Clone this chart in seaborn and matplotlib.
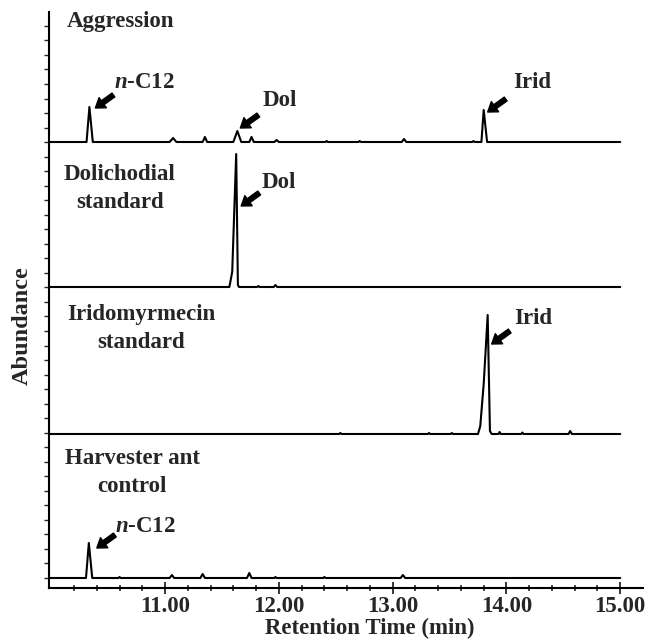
import matplotlib
matplotlib.use('Agg')
import matplotlib.pyplot as plt
import matplotlib.transforms as mtransforms
from matplotlib.ticker import FixedLocator, NullFormatter
import seaborn as sns
import numpy as np

# chromatogram traces: retention time (min) and abundance (arbitrary units)
aggression_time = [9.98, 10.31, 10.335, 10.365, 11.04, 11.07, 11.10, 11.33, 11.35, 11.37,
                   11.60, 11.635, 11.67, 11.74, 11.76, 11.78, 11.96, 11.98, 12.00,
                   12.41, 12.42, 12.43, 12.70, 12.71, 12.72, 13.08, 13.10, 13.12,
                   13.70, 13.71, 13.72, 13.78, 13.80, 13.83, 15.00]
aggression_abund = [0, 0, 35, 0, 0, 4, 0, 0, 5, 0,
                    0, 11, 0, 0, 5, 0, 0, 2, 0,
                    0, 1, 0, 0, 1, 0, 0, 3, 0,
                    0, 1, 0, 0, 32, 0, 0]

dolichodial_time = [9.98, 11.565, 11.59, 11.625, 11.64, 11.65, 11.81, 11.82, 11.83,
                    11.955, 11.97, 11.985, 15.00]
dolichodial_abund = [0, 0, 15, 133, 2, 0, 0, 1, 0,
                     0, 2, 0, 0]

iridomyrmecin_time = [9.98, 12.53, 12.54, 12.55, 13.31, 13.32, 13.33, 13.51, 13.52, 13.53,
                      13.75, 13.77, 13.80, 13.835, 13.855, 13.87, 13.93, 13.94, 13.95,
                      14.13, 14.14, 14.15, 14.545, 14.56, 14.575, 15.00]
iridomyrmecin_abund = [0, 0, 1, 0, 0, 1, 0, 0, 1, 0,
                       0, 8, 50, 119, 3, 0, 0, 2, 0,
                       0, 1.5, 0, 0, 3, 0, 0]

control_time = [9.98, 10.305, 10.33, 10.36, 10.59, 10.60, 10.61, 11.04, 11.06, 11.08,
                11.31, 11.33, 11.35, 11.72, 11.74, 11.76, 11.96, 11.97, 11.98,
                12.39, 12.40, 12.41, 13.07, 13.09, 13.11, 15.00]
control_abund = [0, 0, 35, 0, 0, 1, 0, 0, 3, 0,
                 0, 4, 0, 0, 5, 0, 0, 1, 0,
                 0, 1, 0, 0, 3, 0, 0]

trace_names = ['Aggression', 'Dolichodial\nstandard', 'Iridomyrmecin\nstandard',
               'Harvester ant\ncontrol']
trace_times = [aggression_time, dolichodial_time, iridomyrmecin_time, control_time]
trace_abunds = [aggression_abund, dolichodial_abund, iridomyrmecin_abund, control_abund]

# peak annotations: label, trace index, retention time of the labelled peak
peak_labels = [r'$\it{n}$-C12', 'Dol', 'Irid', 'Dol', 'Irid', r'$\it{n}$-C12']
peak_traces = [0, 0, 0, 1, 2, 3]
peak_times = [10.335, 11.635, 13.80, 11.625, 13.835, 10.33]

xticks = [11, 12, 13, 14, 15]
xticklabels = ['11.00', '12.00', '13.00', '14.00', '15.00']

# layout / styling
FS = 16.5
offsets = [446, 301, 154, 10]
name_pos = [(0.030, 0.983, 'left'), (0.1195, 0.693, 'center'),
            (0.155, 0.450, 'center'), (0.140, 0.201, 'center')]
tip_off = [(6, -1), (3, 3), (4, -2), (5, -52), (4, -29), (8, -5)]
text_off = [(19, 25), (22, 28), (25, 30), (20, 23), (22, 26), (18, 21)]

sns.set_style('ticks')
plt.rcParams['font.family'] = ['Liberation Serif', 'DejaVu Serif']
plt.rcParams['font.weight'] = 'bold'
plt.rcParams['axes.labelweight'] = 'bold'
plt.rcParams['mathtext.fontset'] = 'custom'
plt.rcParams['mathtext.it'] = 'Liberation Serif:italic:bold'
plt.rcParams['mathtext.rm'] = 'Liberation Serif:bold'
plt.rcParams['mathtext.bf'] = 'Liberation Serif:bold'

fig = plt.figure(figsize=(6.46, 6.4), dpi=100)
ax = fig.add_axes([49 / 646, 52 / 640, 594 / 646, 576 / 640])

for t, a, off in zip(trace_times, trace_abunds, offsets):
    sns.lineplot(x=t, y=np.array(a) + off, ax=ax, color='black', linewidth=1.5,
                 estimator=None, sort=False)

for name, (px, py, ha) in zip(trace_names, name_pos):
    ax.text(px, py, name, transform=ax.transAxes, ha=ha, va='center',
            fontsize=FS, fontweight='bold', linespacing=1.45)

for lab, ti, rt, (tdx, tdy), (xdx, xdy) in zip(peak_labels, peak_traces, peak_times,
                                               tip_off, text_off):
    idx = trace_times[ti].index(rt)
    apex = trace_abunds[ti][idx] + offsets[ti]
    tip_tr = mtransforms.offset_copy(ax.transData, fig=fig, x=tdx, y=tdy, units='dots')
    ax.annotate('', xy=(rt, apex), xycoords=tip_tr, xytext=(18, 13),
                textcoords='offset pixels',
                arrowprops=dict(facecolor='black', edgecolor='black', width=3.4,
                                headwidth=9, headlength=6.5, shrink=0))
    txt_tr = mtransforms.offset_copy(ax.transData, fig=fig, x=tdx + xdx, y=tdy + xdy,
                                     units='dots')
    ax.text(rt, apex, lab, transform=txt_tr, ha='left', va='center',
            fontsize=FS, fontweight='bold')

ax.set_xlim(9.98, 15.2)
ax.set_ylim(0, 576)
ax.set_xticks(xticks)
ax.set_xticklabels(xticklabels, fontsize=FS, fontweight='bold')
ax.xaxis.set_minor_locator(FixedLocator([v for v in np.arange(10.2, 15.0, 0.2)
                                         if abs(v - round(v)) > 0.01]))
ax.yaxis.set_major_locator(FixedLocator(np.arange(10, 577, 14.53)))
ax.yaxis.set_major_formatter(NullFormatter())
ax.tick_params(axis='x', which='major', direction='inout', length=9, width=1.3, pad=1)
ax.tick_params(axis='x', which='minor', direction='inout', length=5, width=1.2)
ax.tick_params(axis='y', which='major', direction='out', length=3.5, width=1.0)

for side in ['top', 'right']:
    ax.spines[side].set_visible(False)
for side in ['left', 'bottom']:
    ax.spines[side].set_linewidth(1.5)
    ax.spines[side].set_color('black')

ax.set_xlabel('Retention Time (min)', fontsize=FS, fontweight='bold')
ax.xaxis.set_label_coords(0.54, -0.051)
ax.set_ylabel('Abundance', fontsize=17.5, fontweight='bold')
ax.yaxis.set_label_coords(-0.027, 0.455)

fig.savefig('out.png', dpi=100)
